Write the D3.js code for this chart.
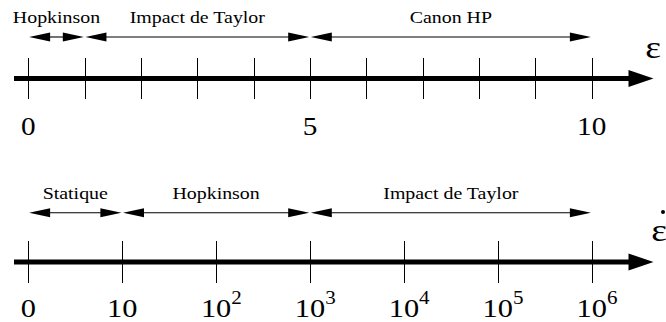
<!DOCTYPE html>
<html>
<head>
<meta charset="utf-8">
<script src="https://cdn.jsdelivr.net/npm/d3@7"></script>
</head>
<body style="margin:0">
<svg id="chart" width="666" height="322"></svg>
<script>
// Strain axis (ε): linear, 0..10
const strainTicks = [0, 1, 2, 3, 4, 5, 6, 7, 8, 9, 10];
const strainLabelled = [0, 5, 10];
const strainRangeNames = ["Hopkinson", "Impact de Taylor", "Canon HP"];
const strainRangeBounds = [[0, 1], [1, 5], [5, 10]];

// Strain-rate axis (ε̇): one tick per decade, 0 then 10 .. 10^6
const rateTicks = [0, 1e1, 1e2, 1e3, 1e4, 1e5, 1e6];
const rateRangeNames = ["Statique", "Hopkinson", "Impact de Taylor"];
const rateRangeBounds = [[0, 1e1], [1e1, 1e3], [1e3, 1e6]];

const svg = d3.select("#chart");

const x0 = 28.3, x1 = 591.7;        // first and last tick
const axisStart = 14, axisTip = 653.5;
const stretch = 1.17;                // serif text set slightly wide

const strainX = d3.scaleLinear().domain([0, 10]).range([x0, x1]);
const rateX = d3.scalePoint().domain(rateTicks).range([x0, x1]);

function triangle(tipX, y, dir, len, half) {
  // dir = +1 points right, -1 points left
  const bx = tipX - dir * len;
  return `M${tipX},${y}L${bx},${y - half}L${bx},${y + half}Z`;
}

function stretchedText(x, y, size, anchor) {
  return svg.append("text")
    .attr("transform", `translate(${x},${y}) scale(${stretch},1)`)
    .attr("font-size", size)
    .attr("font-family", "Liberation Serif")
    .style("font-family", "'Liberation Serif'")
    .attr("text-anchor", anchor || "middle");
}

function drawPanel(opts) {
  const { scale, ticks, axisY, tickTop, tickBottom, arrowY, labelY,
          names, bounds } = opts;

  // thick main axis with arrowhead
  svg.append("line")
    .attr("x1", axisStart).attr("x2", axisTip - 20)
    .attr("y1", axisY).attr("y2", axisY)
    .attr("stroke", "#000").attr("stroke-width", 5);
  svg.append("path")
    .attr("d", triangle(axisTip, axisY, 1, 25, 8.5))
    .attr("fill", "#000");

  // ticks
  svg.append("g").selectAll("line").data(ticks).join("line")
    .attr("x1", d => Math.round(scale(d)) + 0.5)
    .attr("x2", d => Math.round(scale(d)) + 0.5)
    .attr("y1", tickTop).attr("y2", tickBottom)
    .attr("stroke", "#000").attr("stroke-width", 1);

  // range arrows (double headed) with their names above
  bounds.forEach((b, i) => {
    const a = scale(b[0]) + 0.8, c = scale(b[1]) - 0.8;
    svg.append("line")
      .attr("x1", a + 18).attr("x2", c - 18)
      .attr("y1", arrowY).attr("y2", arrowY)
      .attr("stroke", "#000").attr("stroke-width", 1.1);
    svg.append("path").attr("d", triangle(a, arrowY, -1, 21, 4.5)).attr("fill", "#000");
    svg.append("path").attr("d", triangle(c, arrowY, 1, 21, 4.5)).attr("fill", "#000");
    stretchedText((scale(b[0]) + scale(b[1])) / 2, labelY, 17).text(names[i]);
  });
}

// Upper panel: strain
drawPanel({
  scale: strainX, ticks: strainTicks,
  axisY: 78.5, tickTop: 58, tickBottom: 99,
  arrowY: 37, labelY: 22.5,
  names: strainRangeNames, bounds: strainRangeBounds
});
strainLabelled.forEach(v => {
  stretchedText(strainX(v), 135, 25).text(String(v));
});
stretchedText(653, 58, 32).text("ε");

// Lower panel: strain rate
drawPanel({
  scale: rateX, ticks: rateTicks,
  axisY: 262, tickTop: 241, tickBottom: 283,
  arrowY: 212.7, labelY: 199,
  names: rateRangeNames, bounds: rateRangeBounds
});
rateTicks.forEach(v => {
  const x = rateX(v);
  if (v < 100) {
    stretchedText(x, 317, 26).text(String(v));
  } else {
    // "10" centred on the tick, exponent raised as a superscript
    const exp = Math.round(Math.log10(v));
    const t = stretchedText(x, 317, 26, "start").attr("x", -13);
    t.append("tspan").text("10");
    t.append("tspan").attr("font-size", 18).attr("dy", -13).text(String(exp));
  }
});
stretchedText(659, 241, 32).text("ε");
svg.append("circle").attr("cx", 663).attr("cy", 212).attr("r", 2).attr("fill", "#000");
</script>
</body>
</html>
